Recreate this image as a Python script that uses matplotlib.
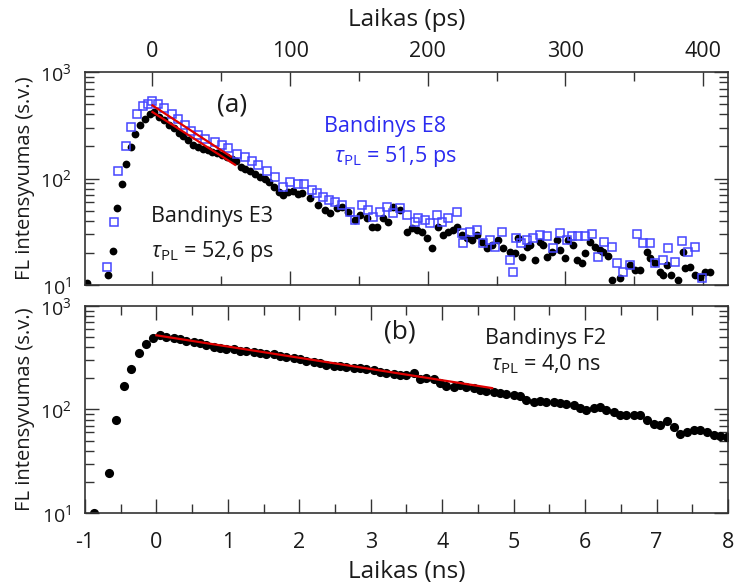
import numpy as np
import matplotlib
matplotlib.use("Agg")
import matplotlib.pyplot as plt
from matplotlib.ticker import LogLocator, MultipleLocator, NullFormatter

plt.rcParams["font.family"] = ["Open Sans", "DejaVu Sans"]
plt.rcParams["mathtext.fontset"] = "custom"
plt.rcParams["mathtext.rm"] = "Open Sans"
plt.rcParams["mathtext.it"] = "Open Sans:italic"
plt.rcParams["axes.unicode_minus"] = False

# (a) bandinys E3, laikas ps / intensyvumas
e3_t = [-47.5, -32.0, -28.5, -25.6, -22.4, -19.0, -15.8, -12.7, -9.1, -5.4, -1.8, 1.5,
        5.0, 8.5, 12.0, 15.5, 19.0, 22.5, 26.0, 29.5, 33.0, 36.5, 40.0, 43.5, 47.0,
        50.5, 54.0, 57.5, 61.0, 64.0, 67.5, 71.0, 74.5, 78.0, 81.5, 85.0, 88.5, 92.0,
        95.0, 98.6, 102.0, 106.0,
        108.3, 114.4, 120.4, 125.3, 128.9, 133.8, 137.4, 142.2, 147.1, 150.7, 155.6,
        159.2, 162.8, 167.6, 171.2, 174.9, 179.7, 184.6, 188.2, 191.9, 195.5, 199.1,
        202.8, 207.6, 211.2, 214.8, 218.5, 220.9, 224.5, 228.2, 231.8, 235.4, 239.1,
        242.7, 246.3, 251.1, 254.8, 259.6, 263.3, 265.7, 268.1, 271.8, 274.2, 277.8,
        281.4, 283.8, 286.3, 289.9, 293.5, 295.9, 299.6, 302.0, 305.6, 308.1, 311.7,
        314.1, 317.7, 321.4, 325.0, 327.4, 330.6, 333.5, 339.5, 346.8, 350.4, 354.0,
        358.9, 361.3, 364.9, 368.6, 371.0, 373.4, 377.0, 381.8, 385.7, 386.7, 390.3,
        394.0, 397.6, 401.2, 404.9]
e3_i = [10.5, 12.3, 20.8, 52.8, 88, 138, 198, 264, 316, 365, 400, 421,
        380, 352, 320, 298, 270, 250, 228, 208, 196, 190, 185, 178, 172,
        166, 160, 153, 145, 128, 122, 117, 110, 104, 98, 92, 84, 75,
        70, 75, 76, 72,
        72.6, 65.2, 56.4, 50.6, 47.1, 52.5, 54.4, 48.8, 40.7, 45.4, 42.3,
        35.3, 35.3, 42.3, 39.4, 54.4, 50.6, 31.6, 34.0, 32.8, 31.6, 27.4,
        22.1, 35.3, 29.4, 31.6, 32.8, 35.3, 29.4, 27.4, 26.4, 29.4, 25.5,
        22.1, 23.8, 26.4, 22.1, 20.6, 19.9, 27.4, 18.5, 22.9, 23.8, 17.2,
        25.5, 23.8, 18.5, 20.6, 26.4, 21.3, 17.8, 26.4, 23.8, 17.2, 16.0,
        20.1, 25.5, 22.9, 21.3, 20.6, 18.7, 11.1, 11.6, 15.4, 13.8, 13.8,
        20.6, 17.8, 16.0, 13.3, 12.4, 15.4, 12.4, 11.1, 20.6, 14.4, 14.9,
        12.4, 12.0, 13.3, 13.3]

# (a) bandinys E8
e8_t = [-33.3, -27.7, -25.3, -19.5, -15.6, -11.0, -6.7, -3.0, -0.6, 4.2, 8.4, 13.9,
        18.7, 23.6, 28.0, 33.3, 38.1, 45.4, 50.2, 55.0, 61.1, 67.2, 72.0, 76.8, 82.9,
        89.0, 95.0, 99.9, 105.9, 110.0, 115.6, 119.7, 124.0, 128.4, 132.5, 137.4,
        143.4, 147.1, 151.9, 156.7, 160.4, 165.2, 170.5, 174.9, 179.7, 184.6, 190.6,
        193.0, 197.9, 201.5, 206.4, 210.0, 214.8, 220.9, 224.5, 225.7, 230.6, 235.4,
        240.2, 245.1, 248.7, 253.6, 259.6, 262.0, 264.0, 267.6, 271.8, 276.6, 281.4,
        286.3, 291.1, 295.9, 300.8, 304.4, 309.2, 314.1, 318.9, 323.7, 328.1, 333.5,
        337.1, 341.9, 346.8, 351.6, 356.4, 361.3, 364.9, 370.9, 374.6, 379.4, 384.3,
        389.1, 394.0, 398.8]
e8_i = [14.8, 39.1, 117, 202, 305, 401, 476, 505, 531, 505, 459, 406,
        360, 316, 279, 254, 237, 220, 205, 193, 171, 159, 145, 133, 117,
        103, 83, 93, 89, 88.7, 78, 72.6, 67.5, 62.8, 60.6, 56.4,
        48.8, 40.7, 56.4, 50.6, 43.8, 48.8, 54.4, 47.1, 52.5, 45.4, 39.4,
        42.3, 40.7, 37.9, 45.4, 39.4, 42.3, 48.8, 30.5, 24.6, 31.6, 32.8,
        24.6, 26.4, 22.9, 31.6, 17.2, 13.3, 27.4, 24.6, 26.4, 27.4, 29.4,
        28.8, 22.1, 31.0, 26.4, 28.8, 28.8, 28.8, 30.1, 18.5, 25.5, 22.6,
        16.0, 13.3, 15.4, 30.1, 24.9, 24.9, 16.0, 17.2, 22.1, 16.6, 26.1,
        20.6, 22.6, 11.6]

# (b) bandinys F2, laikas ns
f2_t = [-0.87, -0.67, -0.57, -0.46, -0.36, -0.25, -0.15, -0.05, 0.05, 0.14, 0.24,
        0.33, 0.42, 0.52, 0.61, 0.70, 0.80, 0.89, 0.98, 1.08, 1.17, 1.26, 1.36,
        1.45, 1.54, 1.64, 1.73, 1.82, 1.92, 2.01, 2.10, 2.20, 2.29, 2.38, 2.48,
        2.57, 2.66, 2.76, 2.85, 2.94, 3.04, 3.13, 3.22, 3.32, 3.41, 3.50, 3.60,
        3.69, 3.78, 3.88, 3.97, 4.06, 4.16, 4.25, 4.34, 4.44, 4.53, 4.62, 4.72,
        4.81, 4.90, 5.00, 5.09, 5.18, 5.28, 5.37, 5.46, 5.56, 5.65, 5.74, 5.84,
        5.93, 6.02, 6.12, 6.21, 6.30, 6.40, 6.49, 6.58, 6.68, 6.77, 6.86, 6.96,
        7.05, 7.14, 7.24, 7.33, 7.42, 7.52, 7.61, 7.70, 7.80, 7.89, 7.98]
f2_i = [10, 24.5, 79, 169, 248, 349, 427, 494, 521, 500, 494,
        478, 462, 450, 442, 420, 406, 396, 388, 380, 368, 366, 356,
        352, 342, 345, 330, 318, 316, 306, 292, 288, 280, 272, 266,
        262, 260, 254, 250, 246, 240, 232, 226, 222, 215, 214, 224,
        195, 200, 196, 180, 170, 166, 173, 166, 162, 155, 150, 148,
        143, 140, 138, 134, 124, 119, 120, 118, 119, 116, 113, 110,
        104, 99, 104, 106, 98, 94, 89, 88, 88.5, 88, 80, 72,
        71, 77, 68, 58, 61, 63, 63, 60, 57, 55, 54.5]

# eksponentiniai priderinimai: (amplitude, tau, fit end)
fit_e3 = (421, 52.6, 60.0)
fit_e8 = (486, 51.5, 57.0)
fit_f2 = (521, 4.0, 4.7)

ink = "#1a1a1a"
red = "#e00000"
blue = "#2b2bf0"


def style_axis(ax):
    ax.set_yscale("log")
    ax.set_ylim(10, 1000)
    ax.yaxis.set_major_locator(LogLocator(base=10))
    ax.yaxis.set_minor_locator(LogLocator(base=10, subs=np.arange(2, 10)))
    ax.yaxis.set_minor_formatter(NullFormatter())
    ax.tick_params(which="both", direction="in", top=True, right=True,
                   color="#333333", width=1.0, labelsize=15.5, labelcolor=ink)
    ax.tick_params(axis="y", labelsize=14, pad=10)
    ax.tick_params(which="major", length=10)
    ax.tick_params(which="minor", length=6.5)
    for s in ax.spines.values():
        s.set_linewidth(1.2)
        s.set_color("#333333")
    ax.set_ylabel("FL intensyvumas (s.v.)", fontsize=14.5, color=ink, labelpad=3)


fig = plt.figure(figsize=(7.35, 5.88), dpi=100)
ax1 = fig.add_axes([0.1156, 0.5153, 0.8748, 0.3622])
ax2 = fig.add_axes([0.1156, 0.1276, 0.8748, 0.3520])

# --- (a) ---
style_axis(ax1)
ax1.set_xlim(-49, 418)
ax1.xaxis.set_major_locator(MultipleLocator(100))
ax1.xaxis.set_minor_locator(MultipleLocator(50))
ax1.tick_params(axis="x", labelbottom=False, labeltop=True, pad=7)
ax1.xaxis.set_label_position("top")
ax1.set_xlabel("Laikas (ps)", fontsize=17.5, color=ink, labelpad=11)

ax1.plot(e3_t, e3_i, "o", color="black", ms=5.6, mew=0)
ax1.plot(e8_t, e8_i, "s", mfc="none", mec="#4545ff", ms=5.4, mew=1.1)
for a, tau, tend in (fit_e3, fit_e8):
    tt = np.linspace(0, tend, 50)
    ax1.plot(tt, a * np.exp(-tt / tau), color=red, lw=1.6)

ax1.text(0.229, 0.845, "(a)", transform=ax1.transAxes, fontsize=19, color=ink,
         ha="center", va="center")
ax1.text(0.467, 0.745, "Bandinys E8", transform=ax1.transAxes, fontsize=15.5,
         color=blue, ha="center", va="center")
ax1.text(0.482, 0.605, r"$\tau_{\mathrm{PL}}$ = 51,5 ps", transform=ax1.transAxes,
         fontsize=15.5, color=blue, ha="center", va="center")
ax1.text(0.198, 0.32, "Bandinys E3", transform=ax1.transAxes, fontsize=15.5,
         color=ink, ha="center", va="center")
ax1.text(0.198, 0.158, r"$\tau_{\mathrm{PL}}$ = 52,6 ps", transform=ax1.transAxes,
         fontsize=15.5, color=ink, ha="center", va="center")

# --- (b) ---
style_axis(ax2)
ax2.set_xlim(-1, 8)
ax2.xaxis.set_major_locator(MultipleLocator(1))
ax2.xaxis.set_minor_locator(MultipleLocator(0.5))
ax2.tick_params(axis="x", pad=14)
ax2.set_xlabel("Laikas (ns)", fontsize=17.5, color=ink, labelpad=5)

ax2.plot(f2_t, f2_i, "o", color="black", ms=6.6, mew=0)
a, tau, tend = fit_f2
tt = np.linspace(0, tend, 50)
ax2.plot(tt, a * np.exp(-tt / tau), color=red, lw=1.6)

ax2.text(0.49, 0.875, "(b)", transform=ax2.transAxes, fontsize=19, color=ink,
         ha="center", va="center")
ax2.text(0.717, 0.845, "Bandinys F2", transform=ax2.transAxes, fontsize=15.5,
         color=ink, ha="center", va="center")
ax2.text(0.717, 0.72, r"$\tau_{\mathrm{PL}}$ = 4,0 ns", transform=ax2.transAxes,
         fontsize=15.5, color=ink, ha="center", va="center")

fig.savefig("out.png", dpi=100)
